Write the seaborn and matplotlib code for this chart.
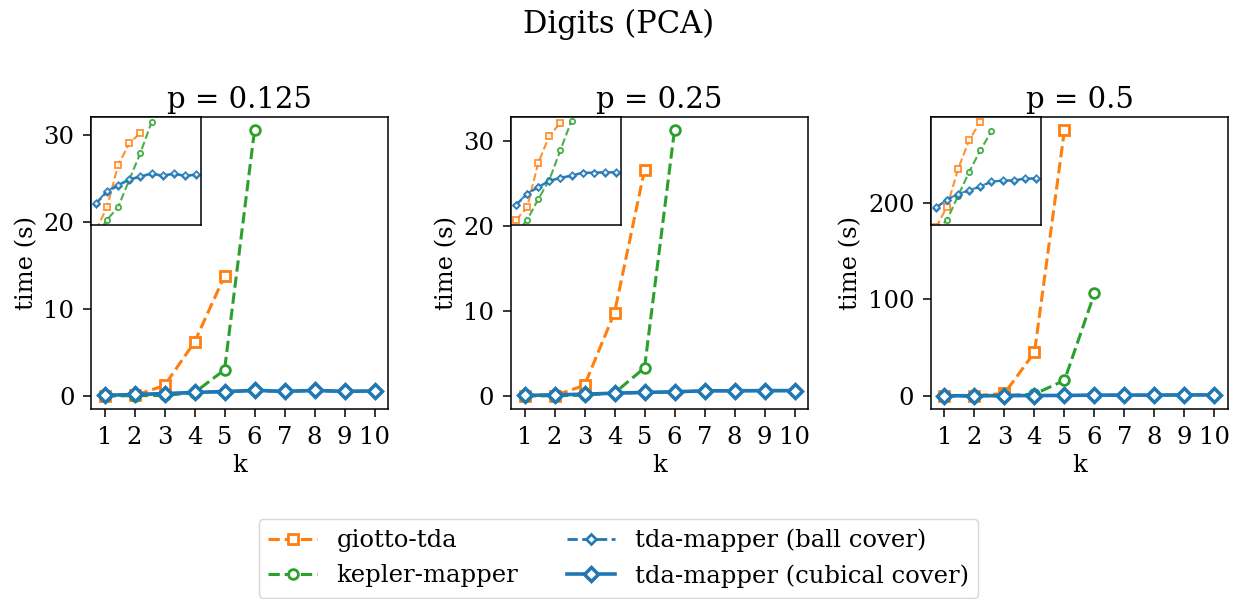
import numpy as np
import pandas as pd
import matplotlib
matplotlib.use('Agg')
import matplotlib.pyplot as plt
import seaborn as sns

plt.rcParams['font.family'] = ['DejaVu Serif']
plt.rcParams['font.size'] = 17.5
plt.rcParams['axes.linewidth'] = 1.1
for ax_name in ('xtick', 'ytick'):
    plt.rcParams[ax_name + '.major.size'] = 6
    plt.rcParams[ax_name + '.major.width'] = 1.1
    plt.rcParams[ax_name + '.major.pad'] = 6

# values (time in seconds)
ks = list(range(1, 11))
p_titles = ['p = 0.125', 'p = 0.25', 'p = 0.5']

giotto = [
    [0.008, 0.048, 1.2, 6.2, 13.8],
    [0.016, 0.042, 1.24, 9.8, 26.6],
    [0.007, 0.056, 2.5, 45.0, 275.0],
]
kepler = [
    [0.005, 0.018, 0.048, 0.38, 3.0, 30.6],
    [0.006, 0.016, 0.078, 0.34, 3.3, 31.3],
    [0.005, 0.015, 0.17, 1.85, 16.0, 106.0],
]
ball = [
    [0.06, 0.15, 0.24, 0.38, 0.47, 0.60, 0.50, 0.60, 0.50, 0.55],
    [0.049, 0.114, 0.195, 0.31, 0.39, 0.46, 0.58, 0.58, 0.60, 0.60],
    [0.05, 0.11, 0.19, 0.28, 0.41, 0.68, 0.76, 0.76, 0.93, 0.93],
]
cubical = [
    [0.065, 0.16, 0.26, 0.40, 0.50, 0.63, 0.53, 0.62, 0.53, 0.57],
    [0.052, 0.12, 0.20, 0.32, 0.41, 0.48, 0.60, 0.60, 0.62, 0.62],
    [0.052, 0.115, 0.20, 0.29, 0.43, 0.70, 0.78, 0.78, 0.95, 0.95],
]
inset_ylims = [(0.012, 47), (0.011, 42), (0.009, 455)]
y_ticks = [[0, 10, 20, 30], [0, 10, 20, 30], [0, 100, 200]]

# label, colour, marker, linestyle, lw, markersize, mew
styles = [
    ('giotto-tda', 'tab:orange', 's', '--', 2.2, 7.0, 2.0),
    ('kepler-mapper', 'tab:green', 'o', '--', 2.2, 7.0, 2.0),
    ('tda-mapper (ball cover)', 'tab:blue', 'D', '--', 2.0, 5.0, 1.9),
    ('tda-mapper (cubical cover)', 'tab:blue', 'D', '-', 2.6, 7.0, 2.5),
]


def draw(ax, series, small=False):
    for (label, color, marker, ls, lw, ms, mew), vals in zip(styles, series):
        if small:
            lw, ms, mew = 1.5, (3.3 if marker == 'D' else 3.8), 1.3
        sns.lineplot(x=ks[:len(vals)], y=vals, ax=ax, color=color, marker=marker,
                     linestyle=ls, linewidth=lw, markersize=ms,
                     markeredgewidth=mew, markeredgecolor=color,
                     markerfacecolor='white', label=label, legend=False,
                     alpha=0.85 if small else 1.0)


fig, axes = plt.subplots(1, 3, figsize=(12.37, 5.99), dpi=100)
fig.subplots_adjust(left=0.0736, right=0.9927, bottom=0.317, top=0.805, wspace=0.414)

for i, ax in enumerate(axes):
    series = [giotto[i], kepler[i], ball[i], cubical[i]]
    draw(ax, series)
    ax.set_xticks(ks)
    ax.set_yticks(y_ticks[i])
    ax.set_xlabel('k')
    ax.set_ylabel('time (s)')
    ax.set_title(p_titles[i], fontsize=21)

    ins = ax.inset_axes([0, 0.63, 0.37, 0.37])
    draw(ins, series, small=True)
    ins.set_yscale('log')
    ins.set_xlim(ax.get_xlim())
    ins.set_ylim(*inset_ylims[i])
    ins.set_xticks([])
    ins.set_yticks([])
    ins.minorticks_off()
    ins.set_xlabel('')
    ins.set_ylabel('')

fig.suptitle('Digits (PCA)', fontsize=22, y=0.986)

handles, labels = axes[0].get_legend_handles_labels()
fig.legend(handles, labels, loc='upper center', bbox_to_anchor=(0.5, 0.1336), ncol=2,
           fontsize=17.5, columnspacing=2.0, labelspacing=0.5, borderaxespad=0)

fig.savefig('out.png', dpi=100)
